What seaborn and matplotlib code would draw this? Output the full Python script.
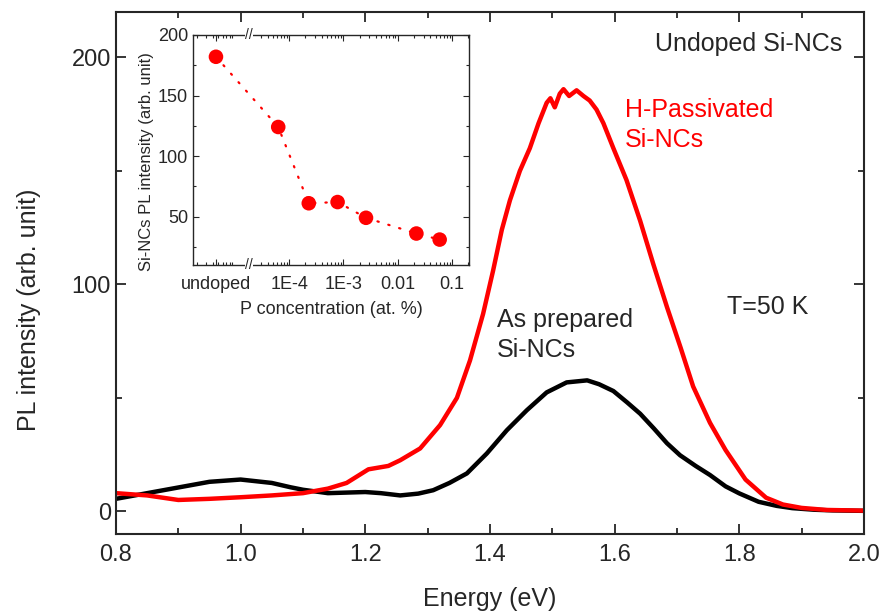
import matplotlib
matplotlib.use("Agg")
import matplotlib.pyplot as plt
import matplotlib.transforms as mtransforms
from matplotlib.ticker import MultipleLocator, FixedLocator, LogLocator, NullFormatter
import seaborn as sns
import pandas as pd

# main spectra (T = 50 K)
energy_asprep = [0.80, 0.85, 0.90, 0.95, 1.00, 1.05, 1.08, 1.10, 1.14, 1.20, 1.225, 1.256,
                 1.285, 1.309, 1.335, 1.363, 1.395, 1.427, 1.459, 1.491, 1.523, 1.556, 1.575,
                 1.598, 1.62, 1.641, 1.663, 1.684, 1.705, 1.73, 1.753, 1.778, 1.80, 1.831,
                 1.86, 1.885, 1.92, 1.95, 2.00]
pl_asprep = [5.5, 8, 10.5, 13, 14, 12.5, 10.6, 9.5, 8, 8.5, 8, 7,
             7.8, 9.3, 12.5, 16.7, 25.5, 35.7, 44.5, 52.4, 56.8, 57.7, 56,
             53, 48, 43, 36.5, 30, 24.7, 20, 16, 11, 7.9, 4.2,
             2.4, 1.4, 0.7, 0.4, 0.2]

energy_hpass = [0.80, 0.85, 0.90, 0.95, 1.00, 1.05, 1.10, 1.14, 1.17, 1.205, 1.237, 1.256,
                1.288, 1.32, 1.347, 1.368, 1.389, 1.405, 1.419, 1.432, 1.448, 1.464, 1.478,
                1.491, 1.497, 1.504, 1.512, 1.518, 1.527, 1.539, 1.550, 1.560, 1.571, 1.582,
                1.598, 1.619, 1.641, 1.662, 1.684, 1.706, 1.726, 1.753, 1.778, 1.81, 1.843,
                1.87, 1.90, 1.94, 2.00]
pl_hpass = [8, 7, 5, 5.5, 6.2, 7, 8, 10, 12.5, 18.5, 20, 22.5,
            27.7, 38, 50, 66.5, 87, 106, 124, 137, 150, 160, 171,
            180, 182, 178, 184, 186, 183, 185.5, 183, 181, 177, 171,
            160, 146, 128, 109, 90, 72, 55, 39, 27, 14, 6,
            3, 1.5, 0.6, 0.3]

# inset: integrated PL vs P concentration
inset_labels = ["undoped", "6.3E-5", "2.3E-4", "7.8E-4", "2.6E-3", "0.022", "0.059"]
inset_conc = [None, 6.3e-5, 2.3e-4, 7.8e-4, 2.6e-3, 0.022, 0.059]
inset_pl = [182, 124, 61, 62, 49, 36, 31]
UNDOPED_POS = 4.5e-6  # where the "undoped" point sits on the broken axis
inset_ticks = [UNDOPED_POS, 1e-4, 1e-3, 1e-2, 1e-1]
inset_ticklabels = ["undoped", "1E-4", "1E-3", "0.01", "0.1"]

sns.set_style("ticks")
plt.rcParams["font.family"] = ["Liberation Sans", "DejaVu Sans"]

df_a = pd.DataFrame({"Energy": energy_asprep, "PL": pl_asprep})
df_h = pd.DataFrame({"Energy": energy_hpass, "PL": pl_hpass})

fig = plt.figure(figsize=(8.88, 6.16), dpi=100)
ax = fig.add_axes([0.1306, 0.1331, 0.8423, 0.8474])

sns.lineplot(data=df_a, x="Energy", y="PL", color="black", lw=3.2, ax=ax)
sns.lineplot(data=df_h, x="Energy", y="PL", color="#ff0000", lw=3.2, ax=ax)

ax.set_xlim(0.8, 2.0)
ax.set_ylim(-10, 220)
ax.xaxis.set_major_locator(MultipleLocator(0.2))
ax.xaxis.set_minor_locator(MultipleLocator(0.1))
ax.yaxis.set_major_locator(MultipleLocator(100))
ax.yaxis.set_minor_locator(MultipleLocator(50))
ax.xaxis.set_major_formatter(plt.FuncFormatter(lambda v, p: f"{v:.1f}"))
ax.tick_params(which="both", direction="in", top=True, right=True, labelsize=17, width=1.3)
ax.tick_params(which="major", length=7)
ax.tick_params(which="minor", length=4)
ax.tick_params(axis="x", pad=7)
for s in ax.spines.values():
    s.set_linewidth(1.5)
ax.set_xlabel("Energy (eV)", fontsize=18, labelpad=15)
ax.set_ylabel("PL intensity (arb. unit)", fontsize=18)
ax.yaxis.set_label_coords(-0.1, 0.43)

ax.text(1.965, 206, "Undoped Si-NCs", fontsize=18, ha="right", va="center")
ax.text(1.617, 182, "H-Passivated\nSi-NCs", fontsize=18, color="#ff0000",
        ha="left", va="top", linespacing=1.3)
ax.text(1.411, 89.5, "As prepared\nSi-NCs", fontsize=18, ha="left", va="top", linespacing=1.3)
ax.text(1.780, 90, "T=50 K", fontsize=18, ha="left", va="center")

# inset
ins = fig.add_axes([0.2173, 0.5698, 0.3108, 0.3734])
xpos = [UNDOPED_POS if c is None else c for c in inset_conc]
df_i = pd.DataFrame({"x": xpos, "PL": inset_pl, "label": inset_labels})
ins.plot(df_i["x"], df_i["PL"], color="#ff0000", lw=1.6, ls=(0, (0.6, 4.5)),
         dash_capstyle="round")
sns.scatterplot(data=df_i, x="x", y="PL", color="#ff0000", s=110, edgecolor="none",
                ax=ins, zorder=3)
ins.set_xscale("log")
ins.set_xlim(10 ** -5.77, 10 ** -0.69)
ins.set_ylim(10, 200)
ins.xaxis.set_major_locator(FixedLocator(inset_ticks))
ins.set_xticklabels(inset_ticklabels)
ins.xaxis.set_minor_locator(LogLocator(base=10, subs=range(2, 10), numticks=20))
ins.xaxis.set_minor_formatter(NullFormatter())
ins.yaxis.set_major_locator(MultipleLocator(50))
ins.yaxis.set_minor_locator(MultipleLocator(25))
ins.tick_params(which="both", direction="in", top=True, right=True, labelsize=13, width=0.8)
ins.tick_params(which="major", length=4)
ins.tick_params(which="minor", length=2)
ins.tick_params(axis="x", pad=8)
for s in ins.spines.values():
    s.set_linewidth(1.0)
ins.set_xlabel("P concentration (at. %)", fontsize=13, labelpad=6)
ins.set_ylabel("Si-NCs PL intensity (arb. unit)", fontsize=12, labelpad=2)
ins.yaxis.set_label_coords(-0.14, 0.45)

brk = mtransforms.blended_transform_factory(ins.transData, ins.transAxes)
for yy in (0, 1):
    ins.text(10 ** -4.74, yy, "//", transform=brk, ha="center", va="center",
             fontsize=10, bbox=dict(facecolor="white", edgecolor="none", pad=0))

fig.savefig("out.png", dpi=100)
